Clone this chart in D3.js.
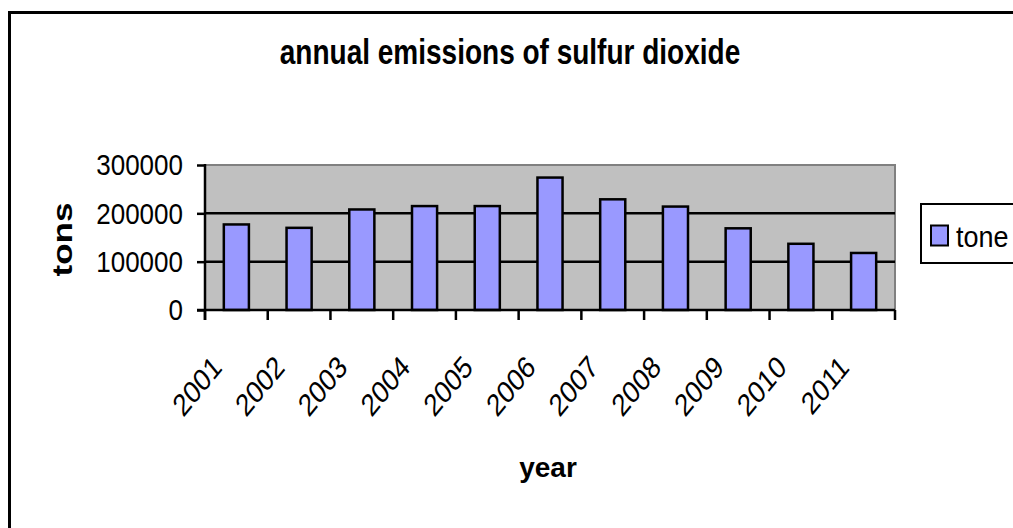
<!DOCTYPE html>
<html><head><meta charset="utf-8">
<script src="https://cdn.jsdelivr.net/npm/d3@7"></script>
<style>html,body{margin:0;padding:0;background:#fff;overflow:hidden}svg{display:block;font-family:"Liberation Sans",Arial,sans-serif}</style>
</head><body><svg id="c" width="1013" height="528"></svg>
<script>
const years = ["2001","2002","2003","2004","2005","2006","2007","2008","2009","2010","2011"];
const tone = [177000,170000,208000,215000,215000,274000,229000,214000,169000,137000,118000];
const yTicks = [0,100000,200000,300000];
const seriesName = "tone";
const titleText = "annual emissions of sulfur dioxide";
const xTitle = "year";
const yTitle = "tons";

const svg = d3.select("#c");
svg.append("rect").attr("x",9.5).attr("y",12.5).attr("width",1100).attr("height",600)
  .attr("fill","#fff").attr("stroke","#000").attr("stroke-width",3);

const L=205,R=895,T=165,B=310;
const x = d3.scaleBand().domain(years).range([L,R]).paddingInner(0.6).paddingOuter(0.3);
const y = d3.scaleLinear().domain([0,300000]).range([B,T]);

svg.append("rect").attr("x",L).attr("y",T).attr("width",R-L).attr("height",B-T).attr("fill","#C0C0C0");
svg.append("path").attr("d",`M${L},${T}H${R}V${B}`).attr("fill","none").attr("stroke","#808080").attr("stroke-width",2);

svg.append("g").selectAll("line").data(yTicks.filter(d=>d>0&&d<300000)).join("line")
  .attr("x1",L).attr("x2",R).attr("y1",d=>y(d)).attr("y2",d=>y(d))
  .attr("stroke","#000").attr("stroke-width",2.5);

svg.append("g").selectAll("rect").data(tone).join("rect")
  .attr("x",(d,i)=>x(years[i])).attr("width",x.bandwidth())
  .attr("y",d=>y(d)).attr("height",d=>B-y(d))
  .attr("fill","#9999FF").attr("stroke","#000").attr("stroke-width",2.5);

const yAxis = svg.append("g").attr("transform",`translate(${L},0)`)
  .call(d3.axisLeft(y).tickValues(yTicks).tickSize(8).tickFormat(""));
yAxis.select(".domain").remove();
yAxis.selectAll("line").attr("stroke","#000").attr("stroke-width",2.5);
svg.append("line").attr("x1",L).attr("x2",L).attr("y1",T-1).attr("y2",B+10).attr("stroke","#000").attr("stroke-width",2.5);
svg.append("g").selectAll("g").data(yTicks).join("g")
  .attr("transform",d=>`translate(183,${y(d)}) scale(1,1.1)`)
  .append("text").attr("text-anchor","end").attr("dy","0.36em")
  .attr("font-size",26).attr("fill","#000").text(d=>d);

svg.append("line").attr("x1",L-8).attr("x2",R).attr("y1",B).attr("y2",B).attr("stroke","#000").attr("stroke-width",2.5);
const bounds = years.map(d=>x(d)-x.step()*x.paddingInner()/2).concat([R]);
svg.append("g").selectAll("line").data(bounds).join("line")
  .attr("x1",d=>d).attr("x2",d=>d).attr("y1",B).attr("y2",B+10)
  .attr("stroke","#000").attr("stroke-width",2.5);
svg.append("g").selectAll("g").data(years).join("g")
  .attr("transform",d=>`translate(${x(d)+x.bandwidth()/2-13},369) scale(1,1.22) rotate(-45)`)
  .append("text").attr("text-anchor","end").attr("font-size",25.5).attr("fill","#000").text(d=>d);

svg.append("g").attr("transform","translate(510,64) scale(1,1.25)")
  .append("text").attr("text-anchor","middle").attr("font-size",28).attr("font-weight","bold").text(titleText);
svg.append("text").attr("x",548).attr("y",477).attr("text-anchor","middle")
  .attr("font-size",28).attr("font-weight","bold").text(xTitle);
svg.append("g").attr("transform","translate(72,239.5) rotate(-90) scale(1.3,1)")
  .append("text").attr("text-anchor","middle").attr("font-size",27).attr("font-weight","bold").text(yTitle);

svg.append("rect").attr("x",921).attr("y",204).attr("width",120).attr("height",59)
  .attr("fill","#fff").attr("stroke","#000").attr("stroke-width",2);
svg.append("rect").attr("x",931).attr("y",225.5).attr("width",17).attr("height",20)
  .attr("fill","#9999FF").attr("stroke","#000").attr("stroke-width",2);
svg.append("g").attr("transform","translate(956,247) scale(1,1.08)")
  .append("text").attr("font-size",27).attr("fill","#000").text(seriesName);
</script></body></html>
